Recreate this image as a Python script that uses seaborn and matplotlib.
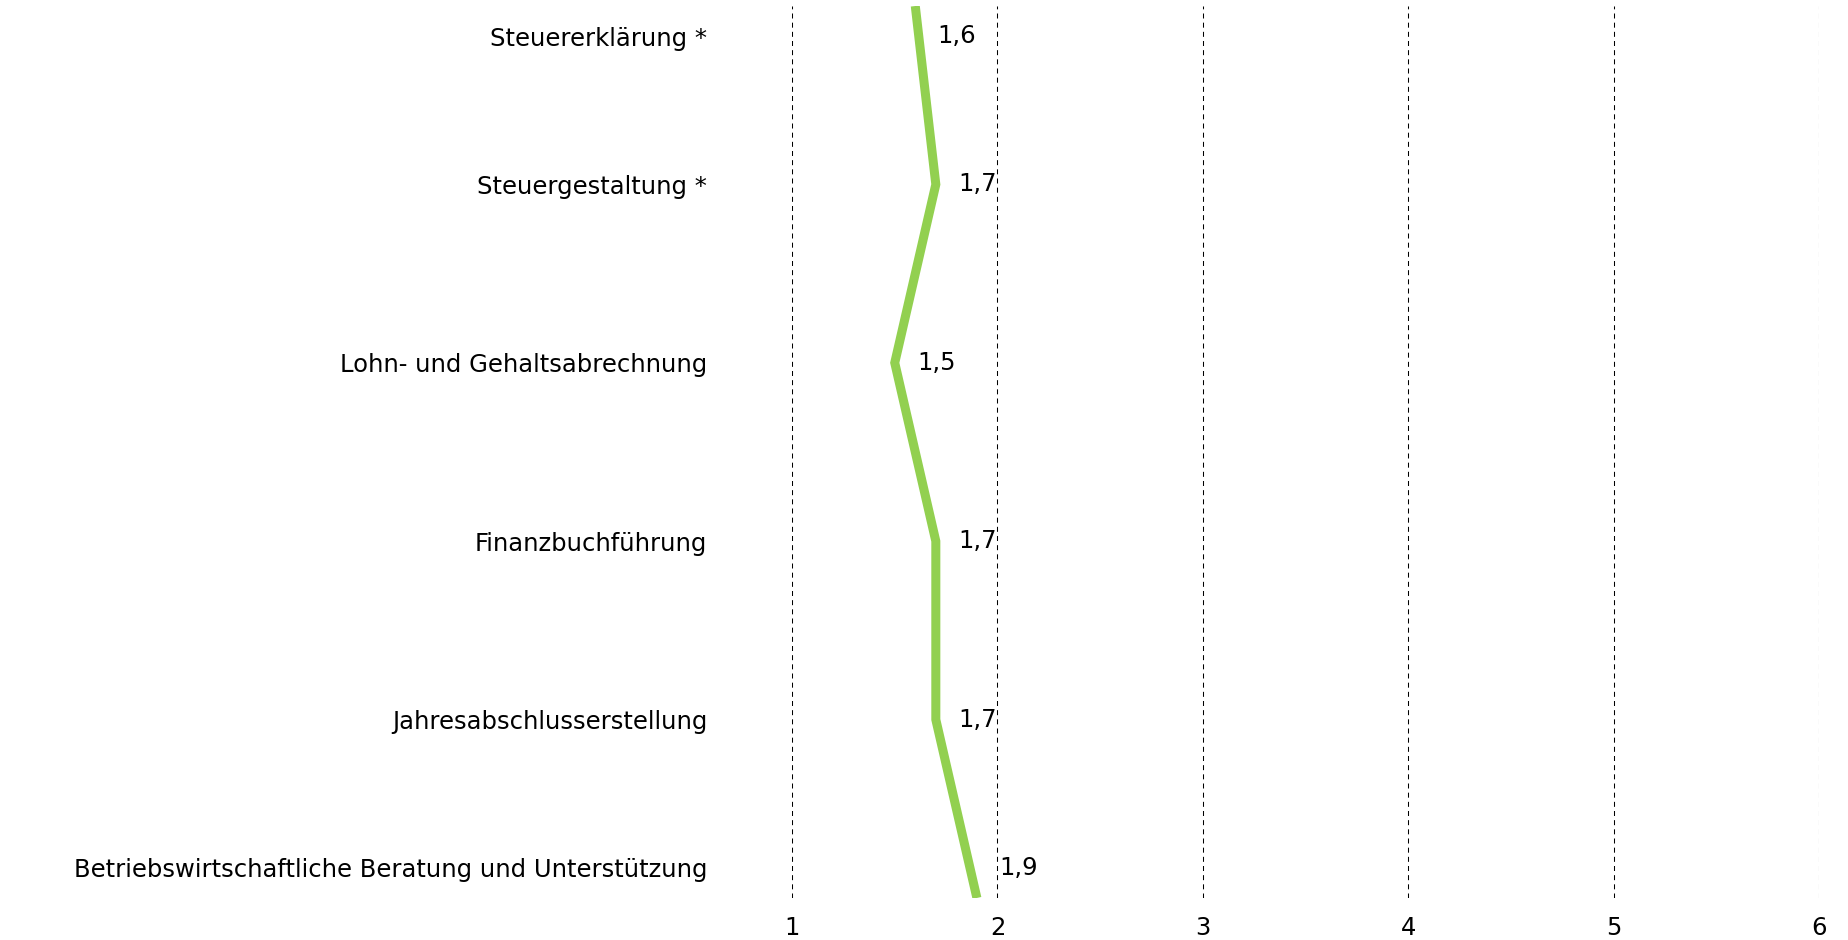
import numpy as np
import pandas as pd
import seaborn as sns
import matplotlib.pyplot as plt
from matplotlib.transforms import ScaledTranslation

#####################################
# Data
#####################################

categories = [
    "Steuererklärung *",
    "Steuergestaltung *",
    "Lohn- und Gehaltsabrechnung",
    "Finanzbuchführung",
    "Jahresabschlusserstellung",
    "Betriebswirtschaftliche Beratung und Unterstützung",
]
scores = [1.6, 1.7, 1.5, 1.7, 1.7, 1.9]
x_ticks = [1, 2, 3, 4, 5, 6]

LINE_GREEN = "#92D050"
FS = 17.5


def plot_profile(df: pd.DataFrame):
    sns.set_style("white")
    plt.rcParams["font.family"] = ["DejaVu Sans"]

    fig = plt.figure(figsize=(18.48, 9.4), dpi=100)
    ax = fig.add_axes([0.4286, 0.0447, 0.5557, 0.9489])

    sns.lineplot(
        data=df, x="score", y="pos", orient="y", sort=False, estimator=None,
        color=LINE_GREEN, linewidth=6.5, ax=ax,
    )
    for line in ax.get_lines():
        line.set_solid_capstyle("butt")
        line.set_solid_joinstyle("miter")

    ax.set_xlim(1, 6)
    ax.set_ylim(len(categories) - 1, 0)
    ax.set_xticks(x_ticks)
    ax.set_xticklabels([str(t) for t in x_ticks], fontsize=FS, color="black")
    ax.set_yticks(df["pos"])
    ax.set_yticklabels(categories, fontsize=FS, color="black")
    ax.tick_params(axis="y", length=0, pad=61)
    ax.tick_params(axis="x", length=0, pad=13)
    ax.set_xlabel("")
    ax.set_ylabel("")
    for s in ax.spines.values():
        s.set_visible(False)

    ax.grid(False)
    for t in x_ticks:
        ax.axvline(t, color="black", linewidth=0.75, linestyle=(0, (4.8, 4)), zorder=0)

    # first and last category labels sit a bit inside the line ends
    shift = 30 / 100
    labels = ax.get_yticklabels()
    labels[0].set_transform(labels[0].get_transform() + ScaledTranslation(0, -shift, fig.dpi_scale_trans))
    labels[-1].set_transform(labels[-1].get_transform() + ScaledTranslation(0, shift, fig.dpi_scale_trans))

    # data labels
    for i, (v, p) in enumerate(zip(df["score"], df["pos"])):
        dy = 0
        if i == 0:
            dy = -shift * 72
        elif i == len(categories) - 1:
            dy = shift * 72
        ax.annotate(
            f"{v:.1f}".replace(".", ","), (v, p), xytext=(16, dy),
            textcoords="offset points", ha="left", va="center", fontsize=FS,
            color="black",
        )
    return fig


def main():
    df = pd.DataFrame({"category": categories, "score": scores,
                       "pos": np.arange(len(categories))})
    fig = plot_profile(df)
    fig.savefig("out.png", dpi=100)


if __name__ == "__main__":
    main()
